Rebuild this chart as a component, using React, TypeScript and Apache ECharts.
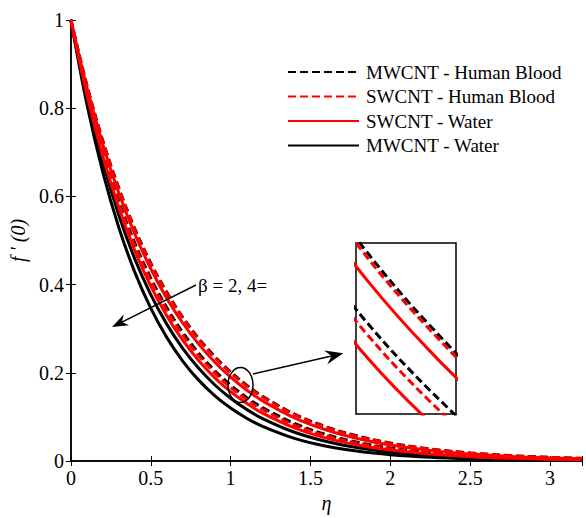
import React, { useEffect, useRef } from 'react';
import * as echarts from 'echarts';

const eta = [0, 0.1, 0.2, 0.3, 0.4, 0.5, 0.6, 0.7, 0.8, 0.9, 1.0, 1.1, 1.2, 1.4, 1.6, 1.8, 2.0, 2.25, 2.5, 2.75, 3.0, 3.2];

// beta = 2
const mwcntBloodB2 = [1, 0.852, 0.726, 0.619, 0.527, 0.449, 0.383, 0.326, 0.278, 0.237, 0.202, 0.172, 0.1466, 0.1065, 0.0773, 0.0561, 0.0408, 0.0273, 0.0183, 0.0123, 0.0082, 0.006];
const swcntBloodB2 = [1, 0.851, 0.725, 0.617, 0.525, 0.447, 0.381, 0.324, 0.2758, 0.2348, 0.1999, 0.1702, 0.1449, 0.105, 0.0761, 0.0551, 0.04, 0.0267, 0.0179, 0.0119, 0.008, 0.0058];
const swcntWaterB2 = [1, 0.847, 0.7175, 0.6077, 0.5148, 0.436, 0.3693, 0.3129, 0.265, 0.2245, 0.1901, 0.1611, 0.1364, 0.0979, 0.0702, 0.0504, 0.0362, 0.0239, 0.0158, 0.0104, 0.0069, 0.0049];
const mwcntWaterB2 = [1, 0.8228, 0.6771, 0.5571, 0.4584, 0.3772, 0.3104, 0.2554, 0.2101, 0.1729, 0.1423, 0.1171, 0.0963, 0.0652, 0.0442, 0.0299, 0.0202, 0.0124, 0.0076, 0.0047, 0.0029, 0.0019];
// beta = 4
const mwcntBloodB4 = [1, 0.8386, 0.7033, 0.5898, 0.4946, 0.4148, 0.3478, 0.2917, 0.2446, 0.2051, 0.172, 0.1443, 0.121, 0.0851, 0.0598, 0.0421, 0.0296, 0.0191, 0.0123, 0.0079, 0.0051, 0.0036];
const swcntBloodB4 = [1, 0.8361, 0.6991, 0.5845, 0.4887, 0.4086, 0.3416, 0.2857, 0.2388, 0.1997, 0.167, 0.1396, 0.1167, 0.0816, 0.057, 0.0399, 0.0279, 0.0178, 0.0114, 0.0073, 0.0047, 0.0033];
const swcntWaterB4 = [1, 0.8311, 0.6907, 0.5741, 0.4771, 0.3965, 0.3296, 0.2739, 0.2276, 0.1892, 0.1572, 0.1307, 0.1086, 0.075, 0.0518, 0.0358, 0.0247, 0.0156, 0.0098, 0.0062, 0.0039, 0.0027];
const mwcntWaterB4 = [1, 0.809, 0.6544, 0.5294, 0.4283, 0.3465, 0.2803, 0.2267, 0.1834, 0.1484, 0.12, 0.0971, 0.0786, 0.0514, 0.0336, 0.022, 0.0144, 0.0085, 0.005, 0.0029, 0.0017, 0.0011];

const legendNames = ['MWCNT - Human Blood', 'SWCNT - Human Blood', 'SWCNT - Water', 'MWCNT - Water'];

// inset (zoomed) window
const insetX = [0.98, 1.146];
const insetY = [0.1335, 0.2065];

const FONT = 'Liberation Serif';

function pairs(v: number[]) {
  return eta.map((x, i) => [x, v[i]]);
}

const styles: Record<string, { color: string; type: any }> = {
  'MWCNT - Human Blood': { color: '#000000', type: [8, 4] },
  'SWCNT - Human Blood': { color: '#ff0000', type: [8, 4] },
  'SWCNT - Water': { color: '#ff0000', type: 'solid' },
  'MWCNT - Water': { color: '#000000', type: 'solid' },
};

const curves: { name: string; data: number[]; inInset: boolean }[] = [
  { name: 'MWCNT - Water', data: mwcntWaterB2, inInset: false },
  { name: 'MWCNT - Water', data: mwcntWaterB4, inInset: false },
  { name: 'MWCNT - Human Blood', data: mwcntBloodB2, inInset: true },
  { name: 'MWCNT - Human Blood', data: mwcntBloodB4, inInset: true },
  { name: 'SWCNT - Human Blood', data: swcntBloodB2, inInset: true },
  { name: 'SWCNT - Human Blood', data: swcntBloodB4, inInset: true },
  { name: 'SWCNT - Water', data: swcntWaterB2, inInset: true },
  { name: 'SWCNT - Water', data: swcntWaterB4, inInset: true },
];

function makeSeries(axisIndex: number, list: typeof curves, z: number) {
  return list.map((c) => ({
    type: 'line',
    name: c.name,
    xAxisIndex: axisIndex,
    yAxisIndex: axisIndex,
    data: pairs(c.data),
    symbol: 'none',
    smooth: 0.35,
    clip: true,
    z,
    lineStyle: { color: styles[c.name].color, width: 3, type: styles[c.name].type },
    itemStyle: { color: styles[c.name].color },
  }));
}

const xFmt = (v: number) => (Math.abs(v * 2 - Math.round(v * 2)) < 1e-6 ? String(v) : '');

const axisLine = { show: true, lineStyle: { color: '#000', width: 1.5 } };
const tick = { show: true, inside: true, length: 5, lineStyle: { color: '#000', width: 1 } };

export default function App() {
  const ref = useRef<HTMLDivElement>(null);
  useEffect(() => {
    const chart = echarts.init(ref.current!, null, { renderer: 'svg' });
    const option: any = {
      animation: false,
      backgroundColor: '#fff',
      grid: [
        { left: 70, top: 20, width: 512, height: 444 },
        { left: 356, top: 243, width: 100, height: 171, show: true, borderColor: '#000', borderWidth: 1.5, backgroundColor: '#fff', z: 5 },
      ],
      xAxis: [
        {
          gridIndex: 0, type: 'value', min: 0, max: 3.2, interval: 0.5,
          axisLine, axisTick: tick, splitLine: { show: false },
          axisLabel: { color: '#000', fontFamily: FONT, fontSize: 20, margin: 7, formatter: xFmt },
          name: 'η', nameLocation: 'middle', nameGap: 32,
          nameTextStyle: { color: '#000', fontFamily: FONT, fontSize: 20, fontStyle: 'italic' },
        },
        {
          gridIndex: 0, type: 'value', position: 'top', min: 0, max: 3.2, interval: 0.5,
          axisLine, axisTick: tick, splitLine: { show: false }, axisLabel: { show: false },
        },
        { gridIndex: 1, type: 'value', min: insetX[0], max: insetX[1], show: false },
      ],
      yAxis: [
        {
          gridIndex: 0, type: 'value', min: 0, max: 1, interval: 0.2,
          axisLine, axisTick: tick, splitLine: { show: false },
          axisLabel: { color: '#000', fontFamily: FONT, fontSize: 20, margin: 7 },
          name: "f ' (0)", nameLocation: 'middle', nameGap: 42,
          nameTextStyle: { color: '#000', fontFamily: FONT, fontSize: 20, fontStyle: 'italic' },
        },
        {
          gridIndex: 0, type: 'value', position: 'right', min: 0, max: 1, interval: 0.2,
          axisLine, axisTick: tick, splitLine: { show: false }, axisLabel: { show: false },
        },
        { gridIndex: 1, type: 'value', min: insetY[0], max: insetY[1], show: false },
      ],
      legend: {
        data: legendNames,
        orient: 'vertical',
        left: 287,
        top: 62,
        padding: 0,
        itemWidth: 71,
        itemHeight: 14,
        itemGap: 4.5,
        selectedMode: false,
        itemStyle: { opacity: 0 },
        textStyle: { color: '#000', fontFamily: FONT, fontSize: 19, lineHeight: 20, padding: [0, 0, 0, 2] },
      },
      series: [
        ...makeSeries(0, curves, 2),
        ...makeSeries(2, curves.filter((c) => c.inInset), 6),
      ],
      graphic: [
        {
          type: 'text', x: 198, y: 285, z: 100,
          style: { text: 'β = 2, 4=', fill: '#000', fontFamily: FONT, fontSize: 19, verticalAlign: 'middle' },
        },
        { type: 'line', z: 100, shape: { x1: 196, y1: 285, x2: 121.9, y2: 322.1 }, style: { stroke: '#000', lineWidth: 1.5 } },
        { type: 'polygon', z: 100, shape: { points: [[112, 327], [129.0, 325.3], [121.9, 322.1], [123.7, 314.5]] }, style: { fill: '#000' } },
        { type: 'ellipse', z: 100, shape: { cx: 240.5, cy: 385, rx: 12.5, ry: 17.5 }, style: { fill: 'none', stroke: '#000', lineWidth: 1.5 } },
        { type: 'line', z: 100, shape: { x1: 253, y1: 374, x2: 331.6, y2: 356.0 }, style: { stroke: '#000', lineWidth: 1.5 } },
        { type: 'polygon', z: 100, shape: { points: [[343.3, 353.3], [327.3, 364.2], [331.6, 356.0], [324.2, 350.5]] }, style: { fill: '#000' } },
      ],
    };
    chart.setOption(option);
    return () => chart.dispose();
  }, []);
  return <div ref={ref} style={{ position: 'fixed', left: 0, top: 0, width: 586, height: 518 }} />;
}
